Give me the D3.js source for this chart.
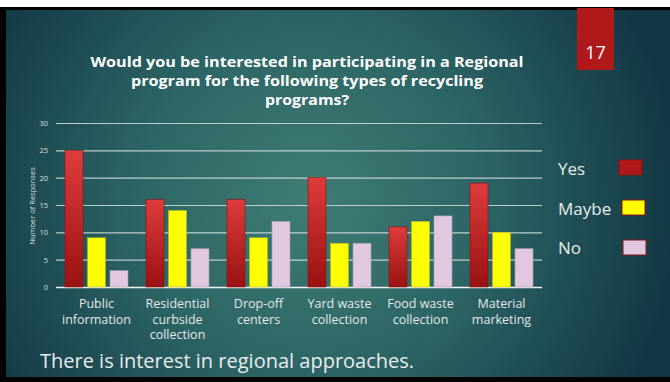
<!DOCTYPE html>
<html>
<head>
<meta charset="utf-8">
<script src="https://cdn.jsdelivr.net/npm/d3@7/dist/d3.min.js"></script>
<style>
  html, body { margin: 0; padding: 0; background: #fff; }
  svg { display: block; }
</style>
</head>
<body>
<svg id="chart" width="670" height="382"></svg>
<script>
// Survey results: interest in regional recycling programs
const categories = [
  "Public information",
  "Residential curbside collection",
  "Drop-off centers",
  "Yard waste collection",
  "Food waste collection",
  "Material marketing"
];
const categoryLines = [
  ["Public", "information"],
  ["Residential", "curbside", "collection"],
  ["Drop-off", "centers"],
  ["Yard waste", "collection"],
  ["Food waste", "collection"],
  ["Material", "marketing"]
];
const seriesNames = ["Yes", "Maybe", "No"];
const yesValues   = [25, 16, 16, 20, 11, 19];
const maybeValues = [9, 14, 9, 8, 12, 10];
const noValues    = [3, 7, 12, 8, 13, 7];
const yTicks = [0, 5, 10, 15, 20, 25, 30];
const titleLines = [
  "Would you be interested in participating in a Regional",
  "program for the following types of recycling",
  "programs?"
];
const slideNumber = "17";
const footerText = "There is interest in regional approaches.";
const yAxisTitle = "Number of Responses";

const seriesValues = [yesValues, maybeValues, noValues];
const FONT = "'Open Sans', 'DejaVu Sans', sans-serif";

const svg = d3.select("#chart");
const defs = svg.append("defs");

// slide background
const bg = defs.append("radialGradient").attr("id", "bgGrad")
  .attr("gradientUnits", "userSpaceOnUse")
  .attr("cx", 310).attr("cy", 200).attr("r", 380);
bg.append("stop").attr("offset", 0).attr("stop-color", "#3f7d75");
bg.append("stop").attr("offset", 0.45).attr("stop-color", "#2c6565");
bg.append("stop").attr("offset", 1).attr("stop-color", "#103543");

const redGrad = defs.append("linearGradient").attr("id", "redGrad")
  .attr("x1", 0).attr("y1", 0).attr("x2", 0).attr("y2", 1);
redGrad.append("stop").attr("offset", 0).attr("stop-color", "#de3c3c");
redGrad.append("stop").attr("offset", 1).attr("stop-color", "#9a1212");

// frame: white strip on top, black border around slide
svg.append("rect").attr("x", 0).attr("y", 0).attr("width", 670).attr("height", 382).attr("fill", "#000");
svg.append("rect").attr("x", 0).attr("y", 0).attr("width", 670).attr("height", 7).attr("fill", "#fff");
svg.append("rect").attr("x", 6).attr("y", 10).attr("width", 664).attr("height", 367).attr("fill", "url(#bgGrad)");

// slide number tab
svg.append("rect").attr("x", 577).attr("y", 8).attr("width", 37).attr("height", 62).attr("fill", "#b0191a");
svg.append("text").attr("x", 595.5).attr("y", 59)
  .attr("text-anchor", "middle").attr("fill", "#fff")
  .attr("font-family", FONT).attr("font-size", 18).text(slideNumber);

// title, each line spread to its set width
const titleWidths = [433, 352, 84];
svg.append("g").selectAll("text").data(titleLines).join("text")
  .attr("x", 307).attr("y", (d, i) => 67 + i * 19)
  .attr("text-anchor", "middle").attr("fill", "#fff")
  .attr("font-family", FONT).attr("font-weight", "bold").attr("font-size", 14.5)
  .attr("textLength", (d, i) => titleWidths[i]).attr("lengthAdjust", "spacingAndGlyphs")
  .text(d => d);

// scales
const plot = { left: 56, right: 542, top: 123, bottom: 287 };
const x0 = d3.scaleBand().domain(categories).range([plot.left, plot.right]).padding(0);
const x1 = d3.scaleBand().domain(seriesNames).range([0, x0.bandwidth()])
  .paddingInner(0.2).paddingOuter(0.4);
const y = d3.scaleLinear().domain([0, 30]).range([plot.bottom, plot.top]);

// gridlines + tick labels
const yAxis = d3.axisLeft(y).tickValues(yTicks)
  .tickSize(-(plot.right - plot.left)).tickPadding(8);
const gy = svg.append("g").attr("transform", `translate(${plot.left},0)`).call(yAxis);
gy.select(".domain").remove();
gy.selectAll(".tick line").attr("stroke", "#d6e0df").attr("stroke-width", 1.2).attr("opacity", 0.85);
gy.selectAll(".tick text").attr("fill", "#d8e0e0").attr("font-family", FONT).attr("font-size", 7.5);
gy.selectAll(".tick").filter(d => d === 0).select("line").attr("stroke", "#f2f2f2").attr("opacity", 1).attr("stroke-width", 1.5);

svg.append("text")
  .attr("transform", `translate(35,${(plot.top + plot.bottom) / 2 + 1}) rotate(-90)`)
  .attr("text-anchor", "middle").attr("fill", "#d8e0e0")
  .attr("font-family", FONT).attr("font-size", 7.5).text(yAxisTitle);

// bars
const fills = { Yes: "url(#redGrad)", Maybe: "#ffff00", No: "#e2c7e0" };
const strokes = { Yes: "#8a1212", Maybe: "#b5b52a", No: "#a9a0ad" };
const barData = [];
categories.forEach((c, ci) => {
  seriesNames.forEach((s, si) => barData.push({ cat: c, series: s, value: seriesValues[si][ci] }));
});
svg.append("g").selectAll("rect").data(barData).join("rect")
  .attr("x", d => x0(d.cat) + x1(d.series))
  .attr("y", d => y(d.value))
  .attr("width", x1.bandwidth())
  .attr("height", d => y(0) - y(d.value))
  .attr("fill", d => fills[d.series])
  .attr("stroke", d => strokes[d.series]).attr("stroke-width", 0.6);

// category labels
const gx = svg.append("g");
categories.forEach((c, ci) => {
  const t = gx.append("text")
    .attr("x", x0(c) + x0.bandwidth() / 2).attr("y", 308)
    .attr("text-anchor", "middle").attr("fill", "#e4e8e8")
    .attr("font-family", FONT).attr("font-size", 12.5);
  categoryLines[ci].forEach((line, li) => {
    t.append("tspan").attr("x", x0(c) + x0.bandwidth() / 2).attr("dy", li === 0 ? 0 : 15.5).text(line);
  });
});

// legend
const legendY = [175, 215, 254];
const swatchX = [619, 622, 623];
const lg = svg.append("g");
seriesNames.forEach((s, i) => {
  lg.append("text").attr("x", 558).attr("y", legendY[i])
    .attr("fill", "#e8ecec").attr("font-family", FONT).attr("font-size", 17).text(s);
  lg.append("rect").attr("x", swatchX[i]).attr("y", legendY[i] - 15 + (i === 2 ? 1 : 0))
    .attr("width", 23).attr("height", 15)
    .attr("fill", i === 0 ? "#b01818" : fills[s])
    .attr("stroke", "#8a1515").attr("stroke-width", 1);
});

// footer statement
svg.append("text").attr("x", 40).attr("y", 368)
  .attr("fill", "#e8ecec").attr("font-family", FONT).attr("font-size", 20)
  .text(footerText);
</script>
</body>
</html>
